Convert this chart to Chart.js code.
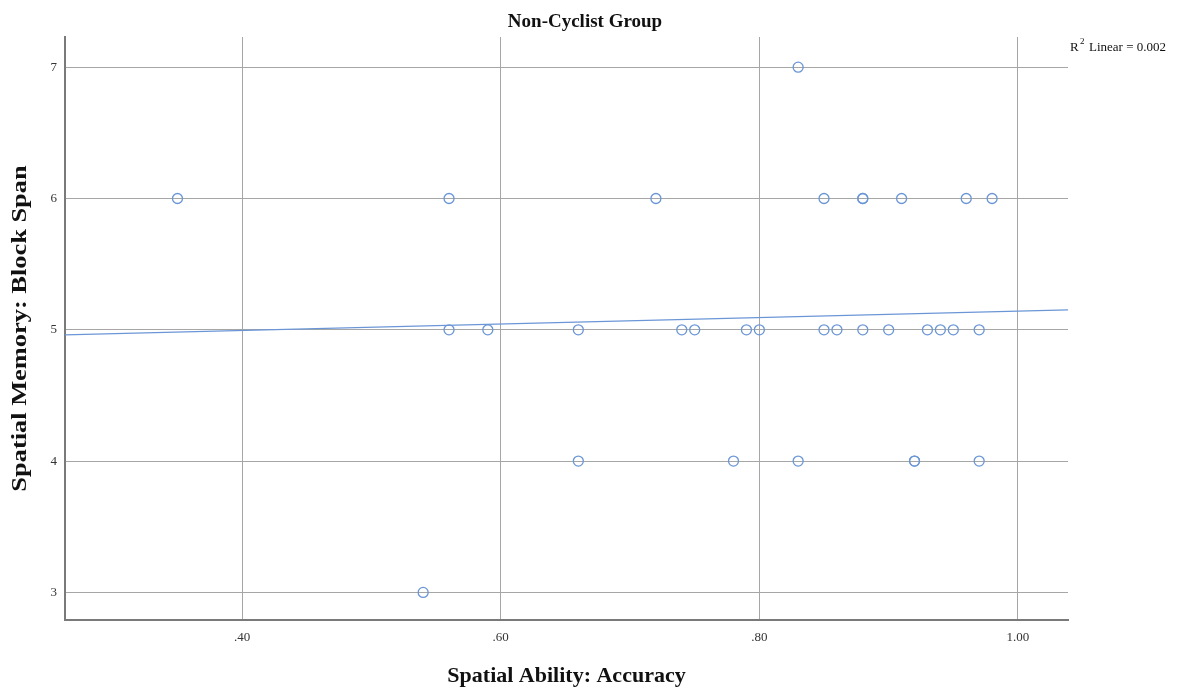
<!DOCTYPE html>
<html>
<head>
<meta charset="utf-8">
<script src="https://cdn.jsdelivr.net/npm/chart.js@4"></script>
<style>
  html, body { margin: 0; padding: 0; background: #fff; }
  #wrap { width: 1188px; height: 688px; }
</style>
</head>
<body>
<div id="wrap"><canvas id="myChart" width="1188" height="688"></canvas></div>
<script>
// Data
const accuracy = [
    0.35, 0.56, 0.72, 0.85, 0.88, 0.88, 0.91, 0.96, 0.98,
    0.83,
    0.56, 0.59, 0.66, 0.74, 0.75, 0.79, 0.80, 0.85, 0.86, 0.88, 0.90, 0.93, 0.94, 0.95, 0.97,
    0.66, 0.78, 0.83, 0.92, 0.92, 0.97,
    0.54
];
const blockSpan = [
    6, 6, 6, 6, 6, 6, 6, 6, 6,
    7,
    5, 5, 5, 5, 5, 5, 5, 5, 5, 5, 5, 5, 5, 5, 5,
    4, 4, 4, 4, 4, 4,
    3
];
const xTicks = [0.40, 0.60, 0.80, 1.00];
const yTicks = [3, 4, 5, 6, 7];
const xRange = [0.263, 1.0387];
const yRange = [2.79, 7.23];
const chartTitle = "Non-Cyclist Group";
const xTitle = "Spatial Ability: Accuracy";
const yTitle = "Spatial Memory: Block Span";
const fitLabel = "Linear = 0.002";

const blue = "#6b96d6";
const gridColor = "#a6a6a6";
const axisColor = "#7a7a7a";
const serif = "'Liberation Serif', 'Times New Roman', serif";

// least squares line through the points
const fitLine = () => {
    const n = accuracy.length;
    let mx = 0, my = 0;
    for (let i = 0; i < n; i++) { mx += accuracy[i]; my += blockSpan[i]; }
    mx /= n; my /= n;
    let sxy = 0, sxx = 0;
    for (let i = 0; i < n; i++) {
        sxy += (accuracy[i] - mx) * (blockSpan[i] - my);
        sxx += (accuracy[i] - mx) ** 2;
    }
    const b = sxy / sxx;
    const a = my - b * mx;
    return xRange.map(x => ({ x: x, y: a + b * x }));
};

const points = accuracy.map((x, i) => ({ x: x, y: blockSpan[i] }));

const textPlugin = {
    id: "texts",
    afterDraw(chart) {
        const ctx = chart.ctx;
        const area = chart.chartArea;
        ctx.save();
        ctx.fillStyle = "#111";
        ctx.textBaseline = "middle";
        ctx.textAlign = "center";
        ctx.font = "bold 19px " + serif;
        ctx.fillText(chartTitle, 585, 22);

        // axis titles
        ctx.font = "bold 22px " + serif;
        ctx.fillText(xTitle, (area.left + area.right) / 2, 676);

        ctx.save();
        ctx.translate(20, (area.top + area.bottom) / 2);
        ctx.rotate(-Math.PI / 2);
        ctx.scale(1.2, 1);
        ctx.font = "bold 22px " + serif;
        ctx.fillText(yTitle, 0, 0);
        ctx.restore();

        // R² label
        ctx.textAlign = "left";
        ctx.font = "13px " + serif;
        ctx.fillText("R", 1070, 48);
        ctx.font = "9px " + serif;
        ctx.fillText("2", 1080, 42);
        ctx.font = "13px " + serif;
        ctx.fillText(fitLabel, 1089, 48);
        ctx.restore();
    }
};

const config = {
    type: "scatter",
    data: {
        datasets: [{
            label: "Block Span",
            data: points,
            pointStyle: "circle",
            pointRadius: 5,
            pointBorderWidth: 1.3,
            pointBackgroundColor: "rgba(0,0,0,0)",
            pointBorderColor: blue,
            order: 1
        }, {
            type: "line",
            label: "Linear",
            data: fitLine(),
            borderColor: blue,
            borderWidth: 1.2,
            pointRadius: 0,
            fill: false,
            order: 2
        }]
    },
    options: {
        responsive: false,
        animation: false,
        layout: {
            padding: { top: 37, right: 120, bottom: 0, left: 0 }
        },
        plugins: {
            legend: { display: false },
            tooltip: { enabled: false },
            title: { display: false }
        },
        scales: {
            x: {
                type: "linear",
                min: xRange[0],
                max: xRange[1],
                afterBuildTicks: (scale) => { scale.ticks = xTicks.map(v => ({ value: v })); },
                afterFit: (scale) => { scale.height = 68; },
                grid: { color: gridColor, lineWidth: 1, drawTicks: false },
                border: { color: axisColor, width: 2 },
                ticks: {
                    padding: 10,
                    color: "#333",
                    font: { family: serif, size: 13 },
                    callback: (v) => v.toFixed(2).replace(/^0/, "")
                }
            },
            y: {
                type: "linear",
                min: yRange[0],
                max: yRange[1],
                afterBuildTicks: (scale) => { scale.ticks = yTicks.map(v => ({ value: v })); },
                afterFit: (scale) => { scale.width = 65; },
                grid: { color: gridColor, lineWidth: 1, drawTicks: false },
                border: { color: axisColor, width: 2 },
                ticks: {
                    padding: 8,
                    color: "#333",
                    font: { family: serif, size: 13 },
                    callback: (v) => String(v)
                }
            }
        }
    },
    plugins: [textPlugin]
};

const myChart = new Chart(document.getElementById("myChart"), config);
</script>
</body>
</html>
